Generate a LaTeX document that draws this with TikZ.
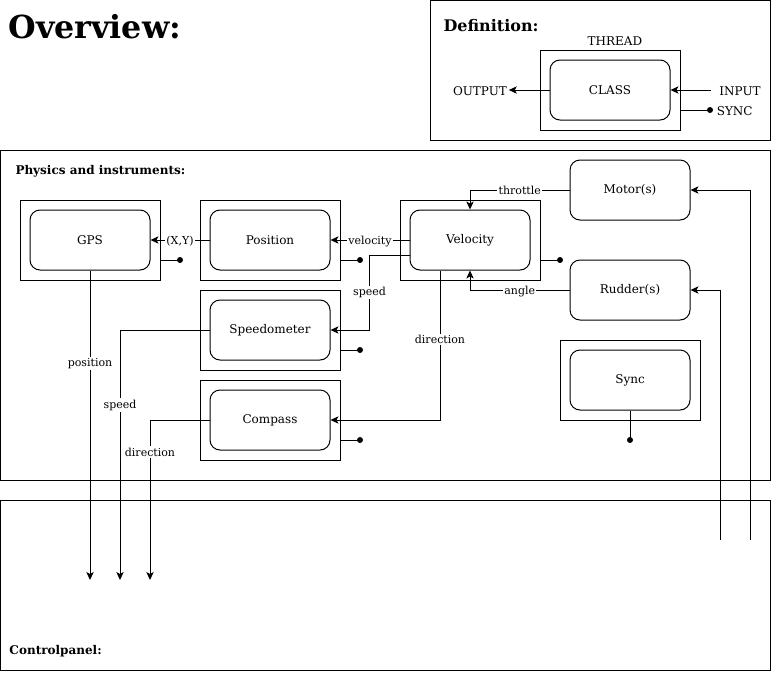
\documentclass[tikz,border=0pt]{standalone}
\usepackage{fontspec}
\setmainfont{DejaVu Serif}
\usetikzlibrary{arrows.meta,calc}
\begin{document}
\begin{tikzpicture}[x=0.75pt,y=-0.75pt,
  every path/.style={line width=0.75pt},
  outerbox/.style={draw,line width=0.75pt,minimum width=105pt,minimum height=60pt,inner sep=0pt},
  clsbox/.style={draw,line width=0.75pt,rounded corners=7.5pt,minimum width=90pt,minimum height=45pt,inner sep=0pt,font=\fontsize{9}{11}\selectfont},
  lbl/.style={fill=white,inner sep=1pt,font=\fontsize{8.25}{10}\selectfont},
  conn/.style={draw,line width=0.75pt,-{Stealth[length=6pt,width=5.5pt,inset=1.5pt]}},
  plain/.style={font=\fontsize{9}{11}\selectfont,inner sep=1pt},
  ttl/.style={font=\bfseries\fontsize{9}{11}\selectfont,anchor=west,inner sep=0pt},
  dotc/.style={fill=black}
]
\useasboundingbox (0,0) rectangle (771,672);

% Titles
\node[anchor=west,inner sep=0pt,font=\bfseries\fontsize{23.8}{27}\selectfont] (ovr) at (8,27) {Overview:};

% Definition panel
\node[draw,minimum width=255pt,minimum height=105pt,inner sep=0pt] (defp) at (600,70) {};
\node[anchor=west,inner sep=0pt,font=\bfseries\fontsize{12}{14}\selectfont] (deft) at (443,26) {Definition:};
\node[outerbox] (thr) at (610,90) {};
\node[clsbox] (cls) at (610,90) {CLASS};
\node[plain] (thrt) at (615,41) {THREAD};
\node[plain] (outp) at (480,91) {OUTPUT};
\node[plain] (inp) at (740,91) {INPUT};
\node[plain,anchor=west] (synct) at (715,111) {SYNC};
\coordinate (syncd) at (710,110);
\draw[conn] (cls.west) -- (outp.east |- cls.west);
\draw[conn] ($(inp.west |- cls.east)+(-7,0)$) -- (cls.east);
\draw (thr.east |- syncd) -- (syncd);
\fill (syncd) circle (3);

% Physics panel
\node[draw,minimum width=577.5pt,minimum height=247.5pt,inner sep=0pt] (phys) at (385,315) {};
\node[ttl] (physt) at (15,171) {Physics and instruments:};

% Control panel
\node[draw,minimum width=577.5pt,minimum height=127.5pt,inner sep=0pt] (ctrl) at (385,585) {};
\node[ttl] (ctrlt) at (9,651) {Controlpanel:};

% Boxes
\node[outerbox] (gpsO) at (90,240) {};
\node[clsbox] (gps) at (90,240) {GPS};
\node[outerbox] (posO) at (270,240) {};
\node[clsbox] (pos) at (270,240) {Position};
\node[outerbox] (velO) at (470,240) {};
\node[clsbox] (vel) at (470,240) {Velocity};
\node[outerbox] (spdO) at (270,330) {};
\node[clsbox] (spd) at (270,330) {Speedometer};
\node[outerbox] (cmpO) at (270,420) {};
\node[clsbox] (cmp) at (270,420) {Compass};
\node[clsbox] (mot) at (630,190) {Motor(s)};
\node[clsbox] (rud) at (630,290) {Rudder(s)};
\node[outerbox] (synO) at (630,380) {};
\node[clsbox] (syn) at (630,380) {Sync};

% sync dots
\coordinate (gpsS) at (180,260);
\coordinate (posS) at (360,260);
\coordinate (velS) at (560,260);
\coordinate (spdS) at (360,350);
\coordinate (cmpS) at (360,440);
\coordinate (synS) at (630,440);
\draw (gpsO.east |- gpsS) -- (gpsS);
\draw (posO.east |- posS) -- (posS);
\draw (velO.east |- velS) -- (velS);
\draw (spdO.east |- spdS) -- (spdS);
\draw (cmpO.east |- cmpS) -- (cmpS);
\draw (syn.south) -- (synS);
\foreach \d in {gpsS,posS,velS,spdS,cmpS,synS} \fill (\d) circle (3);

% connectors
\draw[conn] (pos.west) -- node[lbl,yshift=-0.75pt]{(X,Y)} (gps.east);
\draw[conn] (vel.west) -- node[lbl,yshift=-1pt]{velocity} (pos.east);
\draw[conn] ($(vel.west)+(0,15)$) -- ++(-40,0) |- node[lbl,pos=0.25]{speed} (spd.east);
\draw[conn] ($(vel.south)+(-30,0)$) |- node[lbl,pos=0.23]{direction} (cmp.east);
\draw[conn] (mot.west) -| node[lbl,pos=0.25]{throttle} (vel.north);
\draw[conn] (rud.west) -| node[lbl,pos=0.25,yshift=-1pt]{angle} (vel.south);

\coordinate (cpA) at (90,580);
\coordinate (cpB) at (120,580);
\coordinate (cpC) at (150,580);
\draw[conn] (gps.south) -- node[lbl,pos=0.3]{position} (cpA);
\draw[conn] (spd.west) -| node[lbl,pos=0.65]{speed} (cpB);
\draw[conn] (cmp.west) -| node[lbl,pos=0.6]{direction} (cpC);

\coordinate (cpM) at (750,540);
\coordinate (cpR) at (720,540);
\draw[conn] (cpM) |- (mot.east);
\draw[conn] (cpR) |- (rud.east);
\end{tikzpicture}
\end{document}
